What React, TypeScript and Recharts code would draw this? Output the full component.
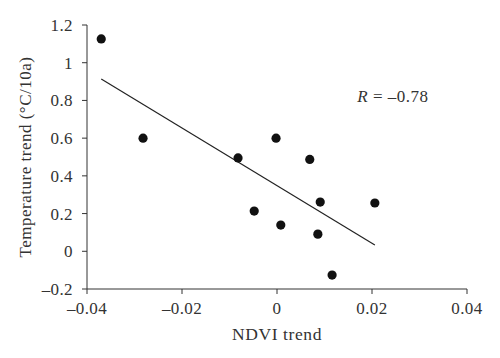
import React from "react";
import {
  ScatterChart,
  Scatter,
  XAxis,
  YAxis,
  ReferenceLine,
  ReferenceDot,
} from "recharts";

const ndviTrend = [-0.037, -0.0282, -0.0082, -0.0002, 0.0069, -0.0048, 0.0008, 0.0091, 0.0086, 0.0116, 0.0206];
const tempTrend = [1.126, 0.6, 0.495, 0.6, 0.487, 0.213, 0.139, 0.261, 0.091, -0.126, 0.256];

const xTicks = [-0.04, -0.02, 0, 0.02, 0.04];
const yTicks = [-0.2, 0, 0.2, 0.4, 0.6, 0.8, 1, 1.2];

// fitted line end points
const fitStart = { x: -0.037, y: 0.914 };
const fitEnd = { x: 0.0206, y: 0.033 };

const rLabel = "–0.78";

const points = ndviTrend.map((x, i) => ({ x, y: tempTrend[i] }));

const FONT = "'Liberation Serif', 'DejaVu Serif', serif";
const INK = "#333";
const FS = 17;

const fmt = (v: number) => String(Number(v.toFixed(2))).replace("-", "–");

const Dot = (props: any) => <circle cx={props.cx} cy={props.cy} r={4.6} fill="#111" />;

export default function App() {
  return (
    <div style={{ position: "absolute", left: 0, top: 0, width: 500, height: 358, background: "#fff" }}>
      <ScatterChart width={500} height={358} margin={{ top: 25, right: 33, bottom: 0, left: 0 }}>
        <XAxis
          type="number"
          dataKey="x"
          domain={[-0.04, 0.04]}
          ticks={xTicks}
          tickFormatter={fmt}
          height={69}
          stroke={INK}
          tickSize={5}
          tickMargin={8}
          tick={{ fill: INK, fontSize: FS, fontFamily: FONT, letterSpacing: 0.4 }}
          label={({ viewBox }: any) => (
            <text
              x={viewBox.x + viewBox.width / 2}
              y={340}
              textAnchor="middle"
              fill={INK}
              fontSize={FS + 0.5}
              fontFamily={FONT}
              letterSpacing={0.6}
            >
              NDVI trend
            </text>
          )}
        />
        <YAxis
          type="number"
          dataKey="y"
          domain={[-0.2, 1.2]}
          ticks={yTicks}
          tickFormatter={fmt}
          width={87}
          stroke={INK}
          tickSize={5}
          tickMargin={9}
          tick={{ fill: INK, fontSize: FS, fontFamily: FONT, letterSpacing: 0.4 }}
          label={({ viewBox }: any) => {
            const cy = viewBox.y + viewBox.height / 2;
            return (
              <text
                x={31}
                y={cy}
                transform={`rotate(-90, 31, ${cy})`}
                textAnchor="middle"
                fill={INK}
                fontSize={FS}
                fontFamily={FONT}
                letterSpacing={0.5}
              >
                Temperature trend (°C/10a)
              </text>
            );
          }}
        />
        <ReferenceLine
          segment={[fitStart, fitEnd]}
          stroke="#222"
          strokeWidth={1.2}
          ifOverflow="visible"
        />
        <ReferenceDot
          x={0.0244}
          y={0.823}
          r={0}
          fill="none"
          stroke="none"
          label={({ viewBox }: any) => (
            <text
              x={viewBox.x + viewBox.width / 2}
              y={viewBox.y + viewBox.height / 2 + 6}
              textAnchor="middle"
              fill={INK}
              fontSize={FS}
              fontFamily={FONT}
              letterSpacing={0.5}
            >
              <tspan fontStyle="italic">R</tspan>
              <tspan> = {rLabel}</tspan>
            </text>
          )}
        />
        <Scatter data={points} shape={Dot} isAnimationActive={false} />
      </ScatterChart>
    </div>
  );
}
